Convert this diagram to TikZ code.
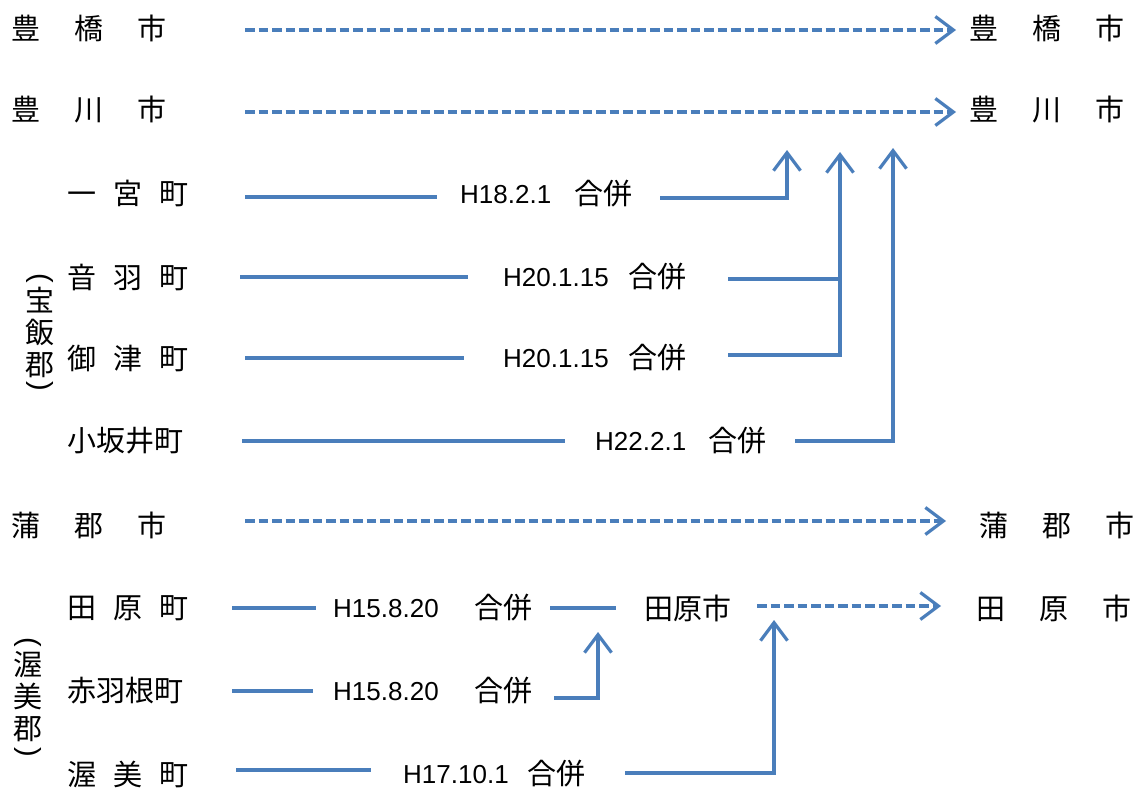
\documentclass[tikz,border=0pt]{standalone}
\usepackage{fontspec}
\setmainfont{Liberation Sans}
\newfontfamily\cjk{Noto Sans CJK JP}
\usetikzlibrary{arrows.meta}
\definecolor{lineblue}{HTML}{4A7EBB}
\begin{document}
\begin{tikzpicture}[x=1pt,y=-1pt,
  jp/.style={anchor=west,inner sep=0pt,font=\cjk\fontsize{29}{32}\selectfont},
  vjp/.style={inner sep=0pt,align=center,font=\cjk\fontsize{29}{32}\selectfont},
  paren/.style={inner sep=0pt,rotate=-90,font=\fontsize{29}{31}\selectfont},
  date/.style={anchor=west,inner sep=0pt,font=\fontsize{26}{28}\selectfont},
  conn/.style={draw=lineblue,line width=3.2pt},
  dconn/.style={conn,dash pattern=on 9.5pt off 4pt},
  tip/.style={-{Straight Barb[length=18pt,width=27pt]}},
]
\useasboundingbox (0,0) rectangle (1139,789);
\newcommand{\wsp}{\hspace{34pt}}
\newcommand{\nsp}{\hspace{17pt}}
% left labels
\node[jp] (toyohashi) at (11,28) {豊\wsp 橋\wsp 市};
\node[jp] (toyokawa) at (11,110) {豊\wsp 川\wsp 市};
\node[jp] (ichinomiya) at (67,193) {一\nsp 宮\nsp 町};
\node[jp] (otowa) at (67,277) {音\nsp 羽\nsp 町};
\node[jp] (mito) at (67,358) {御\nsp 津\nsp 町};
\node[jp] (kozakai) at (67,441) {小坂井町};
\node[jp] (gamagori) at (11,525) {蒲\wsp 郡\wsp 市};
\node[jp] (taharacho) at (67,608) {田\nsp 原\nsp 町};
\node[jp] (akabane) at (67,691) {赤羽根町};
\node[jp] (atsumicho) at (67,774) {渥\nsp 美\nsp 町};
% group labels
\node[paren] (hoip1) at (40,278) {(};
\node[vjp] (hoi) at (40,332) {宝\\飯\\郡};
\node[paren] (hoip2) at (40,386) {)};
\node[paren] (atp1) at (28,642) {(};
\node[vjp] (atsumig) at (28,697) {渥\\美\\郡};
\node[paren] (atp2) at (28,752) {)};
% right labels
\node[jp] (toyohashiR) at (969,28) {豊\wsp 橋\wsp 市};
\node[jp] (toyokawaR) at (969,110) {豊\wsp 川\wsp 市};
\node[jp] (gamagoriR) at (979,525) {蒲\wsp 郡\wsp 市};
\node[jp] (taharaR) at (976,608) {田\wsp 原\wsp 市};
\node[jp] (taharaM) at (644,608) {田原市};
% merger labels
\node[date] (d1) at (460,194.5) {H18.2.1};
\node[jp] (g1) at (574,193.5) {合併};
\node[date] (d2) at (503,277.5) {H20.1.15};
\node[jp] (g2) at (628,277) {合併};
\node[date] (d3) at (503,358.5) {H20.1.15};
\node[jp] (g3) at (628,358) {合併};
\node[date] (d4) at (595,441.5) {H22.2.1};
\node[jp] (g4) at (708,441) {合併};
\node[date] (d5) at (333,608.5) {H15.8.20};
\node[jp] (g5) at (474,608) {合併};
\node[date] (d6) at (333,691.5) {H15.8.20};
\node[jp] (g6) at (474,691) {合併};
\node[date] (d7) at (403,774.5) {H17.10.1};
\node[jp] (g7) at (527,774) {合併};
% connector end points
\coordinate (a1) at (245,30);   \coordinate (b1) at (956,30);
\coordinate (a2) at (245,112);  \coordinate (b2) at (956,112);
\coordinate (c1) at (245,197);  \coordinate (c2) at (437,197);
\coordinate (c3) at (660,198);  \coordinate (c4) at (787,198); \coordinate (c5) at (787,150);
\coordinate (e1) at (240,277);  \coordinate (e2) at (468,277);
\coordinate (e3) at (728,279);  \coordinate (e4) at (840,279);
\coordinate (f1) at (245,358);  \coordinate (f2) at (464,358);
\coordinate (f3) at (728,355);  \coordinate (f4) at (840,355); \coordinate (f5) at (840,152);
\coordinate (h1) at (242,441);  \coordinate (h2) at (565,441);
\coordinate (h3) at (795,441);  \coordinate (h4) at (893,441); \coordinate (h5) at (893,148);
\coordinate (k1) at (245,521);  \coordinate (k2) at (946,521);
\coordinate (m1) at (232,608);  \coordinate (m2) at (316,608);
\coordinate (m3) at (550,608);  \coordinate (m4) at (616,608);
\coordinate (n1) at (757,606);  \coordinate (n2) at (941,606);
\coordinate (p1) at (232,691);  \coordinate (p2) at (313,691);
\coordinate (p3) at (554,698);  \coordinate (p4) at (598,698); \coordinate (p5) at (598,632);
\coordinate (q1) at (236,770);  \coordinate (q2) at (371,770);
\coordinate (q3) at (625,773);  \coordinate (q4) at (774,773); \coordinate (q5) at (774,620);
% connectors
\draw[dconn,tip] (a1) -- (b1);
\draw[dconn,tip] (a2) -- (b2);
\draw[conn] (c1) -- (c2);
\draw[conn,tip] (c3) -- (c4) -- (c5);
\draw[conn] (e1) -- (e2);
\draw[conn] (e3) -- (e4);
\draw[conn] (f1) -- (f2);
\draw[conn,tip] (f3) -- (f4) -- (f5);
\draw[conn] (h1) -- (h2);
\draw[conn,tip] (h3) -- (h4) -- (h5);
\draw[dconn,tip] (k1) -- (k2);
\draw[conn] (m1) -- (m2);
\draw[conn] (m3) -- (m4);
\draw[dconn,tip] (n1) -- (n2);
\draw[conn] (p1) -- (p2);
\draw[conn,tip] (p3) -- (p4) -- (p5);
\draw[conn] (q1) -- (q2);
\draw[conn,tip] (q3) -- (q4) -- (q5);
\end{tikzpicture}
\end{document}
